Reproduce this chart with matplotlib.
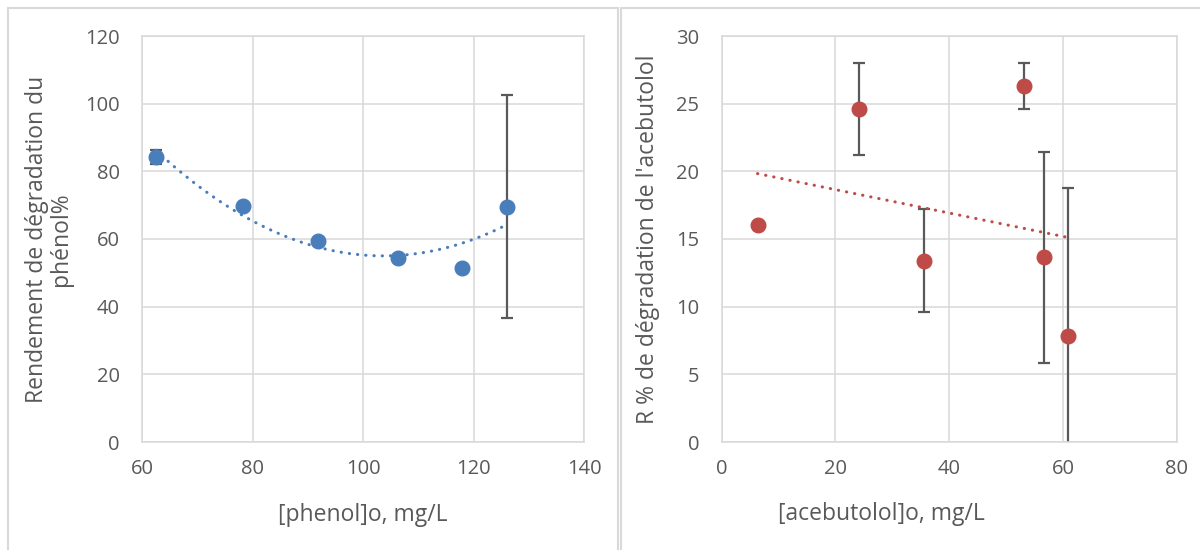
import matplotlib
matplotlib.use('Agg')
import matplotlib.pyplot as plt
from matplotlib.patches import Rectangle
import numpy as np

# left panel: phenol
phenol_x = [62.5, 78.2, 91.9, 106.3, 118.0, 126.0]
phenol_y = [84.3, 69.8, 59.4, 54.3, 51.5, 69.6]
phenol_err = [2.0, 0, 0, 0, 0, 33.0]

# right panel: acebutolol
acebu_x = [6.3, 24.1, 35.5, 53.2, 56.6, 60.9]
acebu_y = [16.06, 24.6, 13.4, 26.3, 13.65, 7.8]
acebu_err = [0, 3.4, 3.8, 1.7, 7.8, 11.0]

blue = '#4a7ebb'
red = '#be4b48'
txt = '#595959'
grid = '#d9d9d9'

plt.rcParams['font.family'] = ['Open Sans', 'DejaVu Sans']

fig = plt.figure(figsize=(12, 5.5), dpi=100)

# chart frames (Excel style)
fig.patches.append(Rectangle((8/1200, -0.01), 610/1200, 1.0 - 8/550 + 0.01,
                             transform=fig.transFigure, fill=False, ec=grid, lw=1.5))
fig.patches.append(Rectangle((621/1200, -0.01), 0.5, 1.0 - 8/550 + 0.01,
                             transform=fig.transFigure, fill=False, ec=grid, lw=1.5))

ax1 = fig.add_axes([142/1200, 108/550, 442/1200, 406/550])
ax2 = fig.add_axes([721.7/1200, 108/550, 455/1200, 406/550])


def style(ax):
    ax.grid(True, color=grid, lw=1.1)
    ax.set_axisbelow(True)
    for s in ax.spines.values():
        s.set_color(grid)
        s.set_linewidth(1.1)
    ax.tick_params(length=0, labelsize=14.5, colors=txt)
    ax.tick_params(axis='y', pad=16)
    ax.tick_params(axis='x', pad=12)


def dotted_fit(ax, x, y, deg, color):
    c = np.polyfit(x, y, deg)
    xs = np.linspace(min(x), max(x), 200)
    ax.plot(xs, np.polyval(c, xs), color=color, lw=2.2,
            linestyle=(0, (0.1, 2.6)), dash_capstyle='round', zorder=3)


# left
style(ax1)
ax1.errorbar(phenol_x, phenol_y, yerr=phenol_err, fmt='none', ecolor=txt,
             elinewidth=1.6, capsize=4.5, capthick=1.6, zorder=2)
dotted_fit(ax1, phenol_x, phenol_y, 2, blue)
ax1.plot(phenol_x, phenol_y, 'o', color=blue, ms=10.5, zorder=4)
ax1.set_xlim(60, 140)
ax1.set_ylim(0, 120)
ax1.set_xticks(range(60, 141, 20))
ax1.set_yticks(range(0, 121, 20))
ax1.set_xlabel('[phenol]o, mg/L', fontsize=16.5, color=txt)
ax1.set_ylabel('Rendement de dégradation du\nphénol%', fontsize=16.5, color=txt,
               linespacing=1.05, multialignment='center')
ax1.xaxis.set_label_coords(0.5, -0.15)
ax1.yaxis.set_label_coords(-0.155, 0.5)

# right
style(ax2)
ax2.errorbar(acebu_x, acebu_y, yerr=acebu_err, fmt='none', ecolor=txt,
             elinewidth=1.6, capsize=4.5, capthick=1.6, zorder=2)
dotted_fit(ax2, acebu_x, acebu_y, 1, red)
ax2.plot(acebu_x, acebu_y, 'o', color=red, ms=10.5, zorder=4)
ax2.set_xlim(0, 80)
ax2.set_ylim(0, 30)
ax2.set_xticks(range(0, 81, 20))
ax2.set_yticks(range(0, 31, 5))
ax2.set_xlabel('[acebutolol]o, mg/L', fontsize=16.5, color=txt)
ax2.set_ylabel("R % de dégradation de l'acebutolol", fontsize=16.5, color=txt)
ax2.xaxis.set_label_coords(0.35, -0.147)
ax2.yaxis.set_label_coords(-0.136, 0.5)

fig.savefig('out.png', dpi=100, facecolor='white')
